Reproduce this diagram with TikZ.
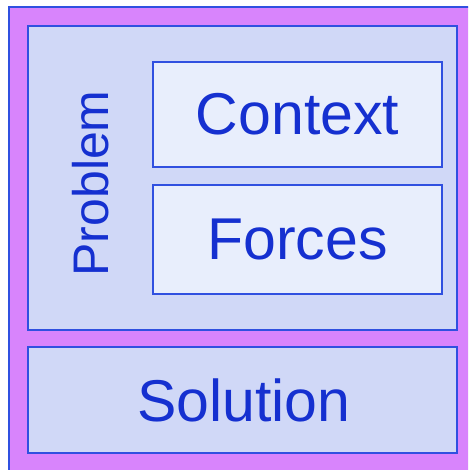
\documentclass[tikz,border=0pt]{standalone}
\usepackage{fontspec}
\setmainfont{Liberation Sans}
\definecolor{frameMag}{HTML}{D884FC}
\definecolor{panelFill}{HTML}{D0D8F7}
\definecolor{cardFill}{HTML}{E8EEFC}
\definecolor{edgeBlue}{HTML}{3050E0}
\definecolor{inkBlue}{HTML}{1530D0}
\tikzset{
  panel/.style={draw=edgeBlue, line width=2pt, fill=panelFill},
  card/.style={draw=edgeBlue, line width=1.6pt, fill=cardFill},
  label/.style={text=inkBlue, inner sep=0pt},
}
\begin{document}
\begin{tikzpicture}[x=1pt, y=-1pt]
  \useasboundingbox (0,0) rectangle (468,470);
  \clip (0,0) rectangle (468,470);
  % outer frame
  \draw[draw=edgeBlue, line width=2.5pt, fill=frameMag] (9,7) rectangle (480,480);
  % problem panel
  \node[panel, minimum width=429pt, minimum height=304pt, inner sep=0pt] (problem) at (242.5,178) {};
  \node[label, rotate=90, font=\fontsize{50}{50}\selectfont] (ptext) at (91,183.5) {Problem};
  % context and forces cards
  \node[card, minimum width=289pt, minimum height=105pt, inner sep=0pt] (context) at (297.5,114.5) {};
  \node[label, font=\fontsize{59}{59}\selectfont] at (context.center) {Context};
  \node[card, minimum width=289pt, minimum height=109pt, inner sep=0pt] (forces) at (297.5,239.5) {};
  \node[label, font=\fontsize{59}{59}\selectfont] at (forces.center) {Forces};
  % solution panel
  \node[panel, minimum width=429pt, minimum height=106pt, inner sep=0pt] (solution) at (242.5,400) {};
  \node[label, font=\fontsize{59}{59}\selectfont] at ([xshift=1.5pt]solution.center) {Solution};
\end{tikzpicture}
\end{document}
